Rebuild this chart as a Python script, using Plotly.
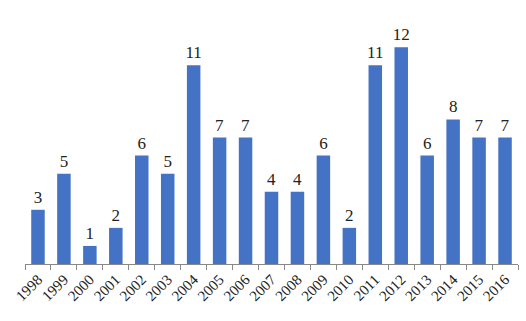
import plotly.graph_objects as go

years = [str(y) for y in range(1998, 2017)]
counts = [3, 5, 1, 2, 6, 5, 11, 7, 7, 4, 4, 6, 2, 11, 12, 6, 8, 7, 7]

SERIF = "Liberation Serif, Times New Roman, serif"

fig = go.Figure(go.Bar(
    x=years, y=counts,
    marker=dict(color="#4472C4", line=dict(width=0)),
    text=[str(c) for c in counts],
    textposition="outside",
    constraintext="none",
    textfont=dict(family=SERIF, size=17, color="#222222"),
    cliponaxis=False,
    width=0.52,
))

fig.update_layout(
    width=526, height=321,
    margin=dict(l=25, r=8, t=11, b=57),
    paper_bgcolor="white", plot_bgcolor="white",
    showlegend=False,
    font=dict(family=SERIF, color="#222222"),
    xaxis=dict(
        type="category",
        tickangle=-45,
        tickfont=dict(family=SERIF, size=15, color="#222222"),
        showline=True, linecolor="#888888", linewidth=1,
        ticks="outside", ticklen=5, tickcolor="#888888",
        tickson="boundaries",
        showgrid=False,
    ),
    yaxis=dict(
        range=[0, 14],
        visible=False,
        showgrid=False,
        zeroline=False,
    ),
)

fig.write_html("out.html")
